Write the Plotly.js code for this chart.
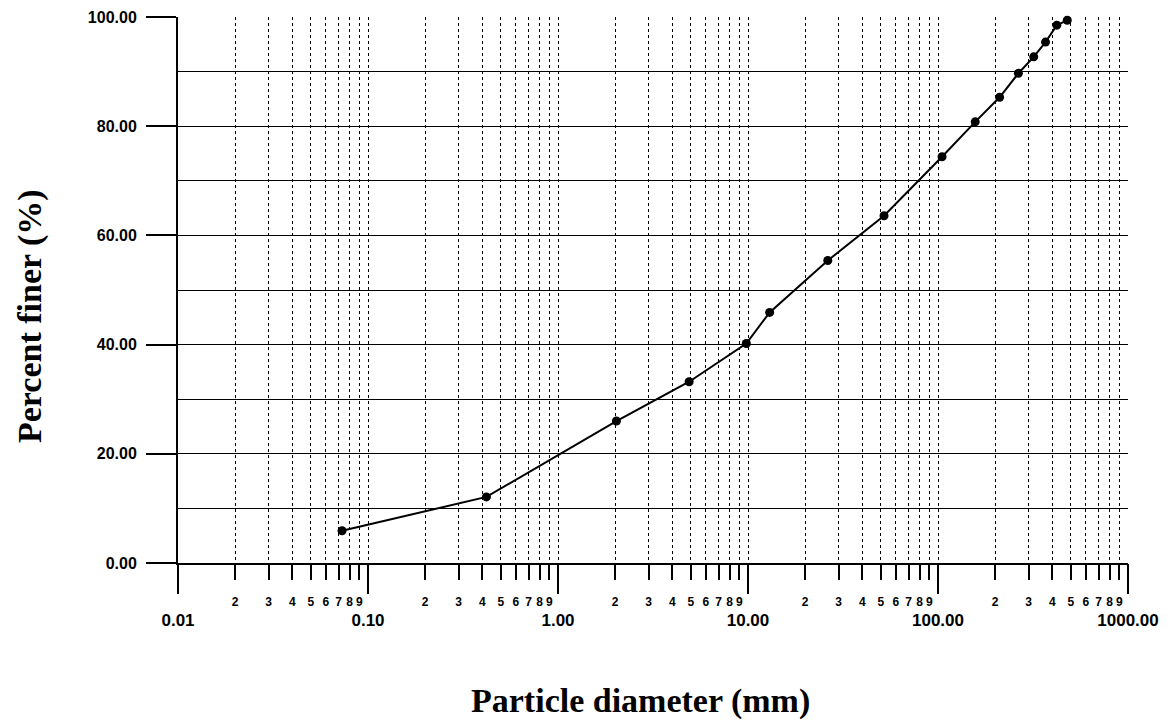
<!DOCTYPE html>
<html>
<head>
<meta charset="utf-8">
<script src="https://cdn.plot.ly/plotly-3.0.1.min.js"></script>
<style>
  html, body { margin: 0; padding: 0; background: #fff; }
  #chart { width: 1168px; height: 720px; }
</style>
</head>
<body>
<div id="chart"></div>
<script>
// Particle size distribution
const diameterMm = [0.073, 0.42, 2.03, 4.9, 9.8, 13.0, 26.3, 52, 105, 157, 211, 265, 319, 368, 422, 479];
const percentFiner = [5.9, 12.1, 26.0, 33.2, 40.2, 45.9, 55.4, 63.6, 74.4, 80.8, 85.3, 89.7, 92.7, 95.4, 98.5, 99.4];

// Axis ticks
const decades = [0.01, 0.1, 1, 10, 100];
const minorDigits = ['2', '3', '4', '5', '6', '7', '8', '9'];
const majorTickVals = [0.01, 0.1, 1, 10, 100, 1000];
const majorTickText = ['0.01', '0.10', '1.00', '10.00', '100.00', '1000.00'];
const yTickVals = [0, 20, 40, 60, 80, 100];
const yTickText = ['0.00', '20.00', '40.00', '60.00', '80.00', '100.00'];

const xTitle = 'Particle diameter (mm)';
const yTitle = 'Percent finer (%)';

const minorTickVals = [];
const minorTickText = [];
decades.forEach(d => minorDigits.forEach(k => { minorTickVals.push(d * Number(k)); minorTickText.push(k); }));

const tickFontFamily = '"Liberation Sans", Arial, sans-serif';
const titleFont = { family: '"Liberation Serif", "Times New Roman", serif', size: 34, color: '#000', weight: 'bold' };

const trace = {
  x: diameterMm,
  y: percentFiner,
  type: 'scatter',
  mode: 'lines+markers',
  line: { color: '#000', width: 2 },
  marker: { color: '#000', size: 9, symbol: 'circle' },
  cliponaxis: false,
  showlegend: false
};

// same data bound to the decade axis so that Plotly draws it (invisible)
const traceDecadeAxis = {
  x: diameterMm,
  y: percentFiner,
  xaxis: 'x2',
  type: 'scatter',
  mode: 'markers',
  marker: { color: 'rgba(0,0,0,0)', size: 1 },
  hoverinfo: 'skip',
  showlegend: false
};

const layout = {
  width: 1168,
  height: 720,
  margin: { l: 178, r: 40, t: 17, b: 157 },
  paper_bgcolor: '#fff',
  plot_bgcolor: '#fff',
  showlegend: false,
  xaxis: {
    type: 'log',
    range: [-2, 3],
    tickmode: 'array',
    tickvals: minorTickVals,
    ticktext: minorTickText,
    ticks: 'outside',
    ticklen: 15,
    tickwidth: 2,
    tickcolor: '#000',
    tickfont: { family: tickFontFamily, size: 12, color: '#000', weight: 'bold' },
    ticklabelstandoff: 12,
    showgrid: true,
    gridcolor: '#000',
    gridwidth: 1,
    griddash: '3px,3px',
    showline: true,
    linecolor: '#000',
    linewidth: 2,
    zeroline: false,
    fixedrange: true
  },
  xaxis2: {
    type: 'log',
    range: [-2, 3],
    overlaying: 'x',
    anchor: 'y',
    side: 'bottom',
    tickmode: 'array',
    tickvals: majorTickVals,
    ticktext: majorTickText,
    ticks: 'outside',
    ticklen: 30,
    tickwidth: 2,
    tickcolor: '#000',
    tickfont: { family: tickFontFamily, size: 17, color: '#000', weight: 'bold' },
    ticklabelstandoff: 12,
    showgrid: true,
    gridcolor: '#000',
    gridwidth: 1,
    griddash: '3px,3px',
    showline: false,
    zeroline: false,
    fixedrange: true
  },
  yaxis: {
    range: [0, 100],
    tickmode: 'array',
    tickvals: yTickVals,
    ticktext: yTickText,
    ticks: 'outside',
    ticklen: 30,
    tickwidth: 2,
    tickcolor: '#000',
    tickfont: { family: tickFontFamily, size: 16, color: '#000', weight: 'bold' },
    ticklabelstandoff: 6,
    showgrid: true,
    gridcolor: '#000',
    gridwidth: 1,
    minor: { dtick: 10, showgrid: true, gridcolor: '#000', gridwidth: 1, ticks: '' },
    showline: true,
    linecolor: '#000',
    linewidth: 2,
    zeroline: false,
    fixedrange: true
  },
  annotations: [
    {
      text: xTitle, xref: 'paper', yref: 'paper', x: 0.487, y: -0.253,
      xanchor: 'center', yanchor: 'middle', showarrow: false, font: titleFont
    },
    {
      text: yTitle, xref: 'paper', yref: 'paper', x: -0.156, y: 0.452,
      xanchor: 'center', yanchor: 'middle', textangle: -90, showarrow: false, font: titleFont
    }
  ]
};

Plotly.newPlot('chart', [trace, traceDecadeAxis], layout, { staticPlot: true, displayModeBar: false });
</script>
</body>
</html>
